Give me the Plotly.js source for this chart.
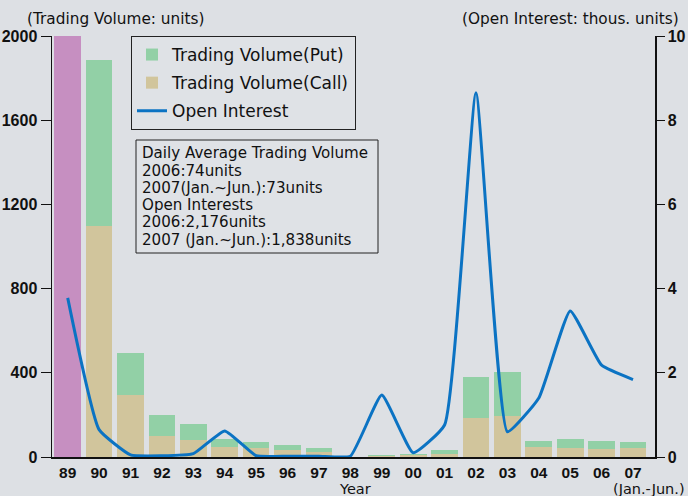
<!DOCTYPE html>
<html><head><meta charset="utf-8">
<script src="https://cdn.plot.ly/plotly-3.0.1.min.js"></script>
<style>html,body{margin:0;padding:0;background:#dde0e4;}#c{width:688px;height:496px;}</style>
</head><body><div id="c"></div>
<script>
const years = ['89','90','91','92','93','94','95','96','97','98','99','00','01','02','03','04','05','06','07'];
const totalOnly = [2000,null,null,null,null,null,null,null,null,null,null,null,null,null,null,null,null,null,null];
const callVol = [null,1097,295,100,80,48,43,33,24,1,5,8,14,185,195,48,44,38,43];
const putVol  = [null,790,200,100,77,36,28,24,19,1,5,6,19,195,209,28,42,36,30];
const openInterest = [3.78,0.65,0.05,0.03,0.08,0.62,0.03,0.02,0.02,0.02,1.47,0.1,0.76,8.65,0.6,1.4,3.47,2.18,1.84];
const leftTicks = [0,400,800,1200,1600,2000];
const rightTicks = [0,2,4,6,8,10];
const noteLines = ['Daily Average Trading Volume','2006:74units','2007(Jan.~Jun.):73units','Open Interests','2006:2,176units','2007 (Jan.~Jun.):1,838units'];

const W = 688, H = 496, ML = 52, MR = 33, MT = 36, MB = 39;
const PW = W - ML - MR, PH = H - MT - MB;
const px = x => (x - ML) / PW;
const py = y => (H - MB - y) / PH;

const tickFont = {family:'"Liberation Sans Narrow","Liberation Sans",Arial,sans-serif', size:16, color:'#111', weight:'bold'};
const xTickFont = {family:'"Liberation Sans Narrow","Liberation Sans",Arial,sans-serif', size:15.5, color:'#111', weight:'bold'};
const traces = [
  {type:'bar', x:years, y:totalOnly, marker:{color:'#c68fc1'}, showlegend:false, hoverinfo:'skip'},
  {type:'bar', name:'Trading Volume(Call)', x:years, y:callVol, marker:{color:'#d1c59c'}, legendrank:2, legendgroup:'b'},
  {type:'bar', name:'Trading Volume(Put)', x:years, y:putVol, marker:{color:'#92d0a6'}, legendrank:1, legendgroup:'a'},
  {type:'scatter', mode:'lines', name:'Open Interest', x:years, y:openInterest, yaxis:'y2',
   line:{color:'#0b73c3', width:3, shape:'spline', smoothing:0.4}, legendrank:3, legendgroup:'c'}
];
const noteFont = {family:'"DejaVu Sans",sans-serif', size:15.1, color:'#111'};
const noteY = [153,171,188,205,222,240];
const sideFont = {family:'"DejaVu Sans",sans-serif', size:15.3, color:'#111'};
const bottomFont = {family:'"DejaVu Sans",sans-serif', size:14.5, color:'#111'};
const annotations = [
  {xref:'paper', yref:'paper', x:px(25), y:py(19), xanchor:'left', yanchor:'middle', showarrow:false,
   text:'(Trading Volume: units)', font:sideFont},
  {xref:'paper', yref:'paper', x:px(681), y:py(19), xanchor:'right', yanchor:'middle', showarrow:false,
   text:'(Open Interest: thous. units)', font:sideFont},
  {xref:'paper', yref:'paper', x:px(355), y:py(489), xanchor:'center', yanchor:'middle', showarrow:false,
   text:'Year', font:bottomFont},
  {xref:'paper', yref:'paper', x:px(687), y:py(489), xanchor:'right', yanchor:'middle', showarrow:false,
   text:'(Jan.-Jun.)', font:bottomFont}
];
noteLines.forEach((t,i) => annotations.push({xref:'paper', yref:'paper', x:px(140), y:py(noteY[i]), xanchor:'left', yanchor:'middle',
  showarrow:false, text:t, font:noteFont}));
const layout = {
  width:W, height:H,
  paper_bgcolor:'#dde0e4', plot_bgcolor:'#dde0e4',
  margin:{l:ML, r:MR, t:MT, b:MB},
  barmode:'stack', bargap:0.15,
  showlegend:true,
  legend:{x:px(131), y:1.0, xanchor:'left', yanchor:'top', traceorder:'grouped',
    bgcolor:'#dfe2e6', bordercolor:'#222', borderwidth:1, tracegroupgap:3,
    font:{family:'"DejaVu Sans",sans-serif', size:17, color:'#111'}, itemwidth:30},
  xaxis:{type:'category', range:[-0.5,18.7], showline:true, linecolor:'#111', linewidth:2,
    ticks:'', ticklabelstandoff:0, tickfont:xTickFont, showgrid:false, zeroline:false},
  yaxis:{range:[0,2000], tickvals:leftTicks, showline:true, linecolor:'#111', linewidth:1.5,
    ticks:'outside', ticklen:10, tickcolor:'#111', tickfont:tickFont, showgrid:false, zeroline:false},
  yaxis2:{range:[0,10], tickvals:rightTicks, overlaying:'y', side:'right', showline:true, linecolor:'#111', linewidth:1.5,
    ticks:'outside', ticklen:8, tickcolor:'#111', tickfont:tickFont, showgrid:false, zeroline:false},
  shapes:[{type:'rect', xref:'paper', yref:'paper', x0:px(136), x1:px(378), y0:py(140), y1:py(253),
    line:{color:'#222', width:1}, fillcolor:'#dfe2e6', layer:'above'}],
  annotations:annotations
};
Plotly.newPlot('c', traces, layout, {displayModeBar:false, staticPlot:true});
</script></body></html>
